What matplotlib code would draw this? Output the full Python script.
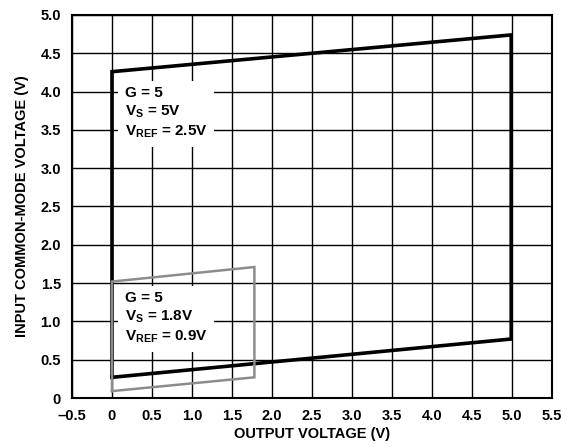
import matplotlib.pyplot as plt
import numpy as np

plt.rcParams['font.family'] = ['Liberation Sans', 'DejaVu Sans']
plt.rcParams['font.weight'] = 'bold'
plt.rcParams['mathtext.fontset'] = 'custom'
plt.rcParams['mathtext.rm'] = 'Liberation Sans:bold'
plt.rcParams['mathtext.it'] = 'Liberation Sans:bold'
plt.rcParams['mathtext.bf'] = 'Liberation Sans:bold'
plt.rcParams['mathtext.default'] = 'rm'

# VS = 5V boundary (output voltage, common-mode voltage)
vs5_x = [0.0, 0.0, 4.99, 4.99, 0.0]
vs5_y = [0.27, 4.26, 4.74, 0.77, 0.27]

# VS = 1.8V boundary
vs18_x = [0.0, 0.0, 1.78, 1.78, 0.0]
vs18_y = [0.09, 1.52, 1.71, 0.27, 0.09]

xticks = np.arange(-0.5, 5.51, 0.5)
xlabels = ['\u20130.5', '0', '0.5', '1.0', '1.5', '2.0', '2.5', '3.0',
           '3.5', '4.0', '4.5', '5.0', '5.5']
yticks = np.arange(0, 5.01, 0.5)
ylabels = ['0', '0.5', '1.0', '1.5', '2.0', '2.5', '3.0', '3.5',
           '4.0', '4.5', '5.0']

fig = plt.figure(figsize=(5.67, 4.47), dpi=100)
ax = fig.add_axes([72 / 567, 1 - 398 / 447, 480 / 567, 383 / 447])

ax.plot(vs5_x, vs5_y, color='black', lw=2.6, solid_joinstyle='miter', zorder=3)
ax.plot(vs18_x, vs18_y, color='#8c8c8c', lw=1.8, solid_joinstyle='miter', zorder=4)

ax.set_xlim(-0.5, 5.5)
ax.set_ylim(0, 5.0)
ax.set_xticks(xticks)
ax.set_xticklabels(xlabels)
ax.set_yticks(yticks)
ax.set_yticklabels(ylabels)
ax.tick_params(length=0, labelsize=10.5)
ax.tick_params(axis='x', pad=8)
ax.tick_params(axis='y', pad=8)
ax.grid(True, color='black', lw=1.0)
ax.set_axisbelow(True)
for s in ax.spines.values():
    s.set_linewidth(1.5)

ax.set_xlabel('OUTPUT VOLTAGE (V)', fontsize=10.5, fontweight='bold', labelpad=3)
ax.set_ylabel('INPUT COMMON-MODE VOLTAGE (V)', fontsize=10.5, fontweight='bold', labelpad=8)

box = dict(facecolor='white', edgecolor='none', pad=5)
ax.text(0.16, 3.72, 'G = 5\n$V_S$ = 5V\n$V_{REF}$ = 2.5V',
        fontsize=11, fontweight='bold', linespacing=1.3, va='center', ha='left',
        bbox=box, zorder=5)
ax.text(0.16, 1.04, 'G = 5\n$V_S$ = 1.8V\n$V_{REF}$ = 0.9V',
        fontsize=11, fontweight='bold', linespacing=1.3, va='center', ha='left',
        bbox=box, zorder=5)

fig.savefig('out.png', dpi=100)
